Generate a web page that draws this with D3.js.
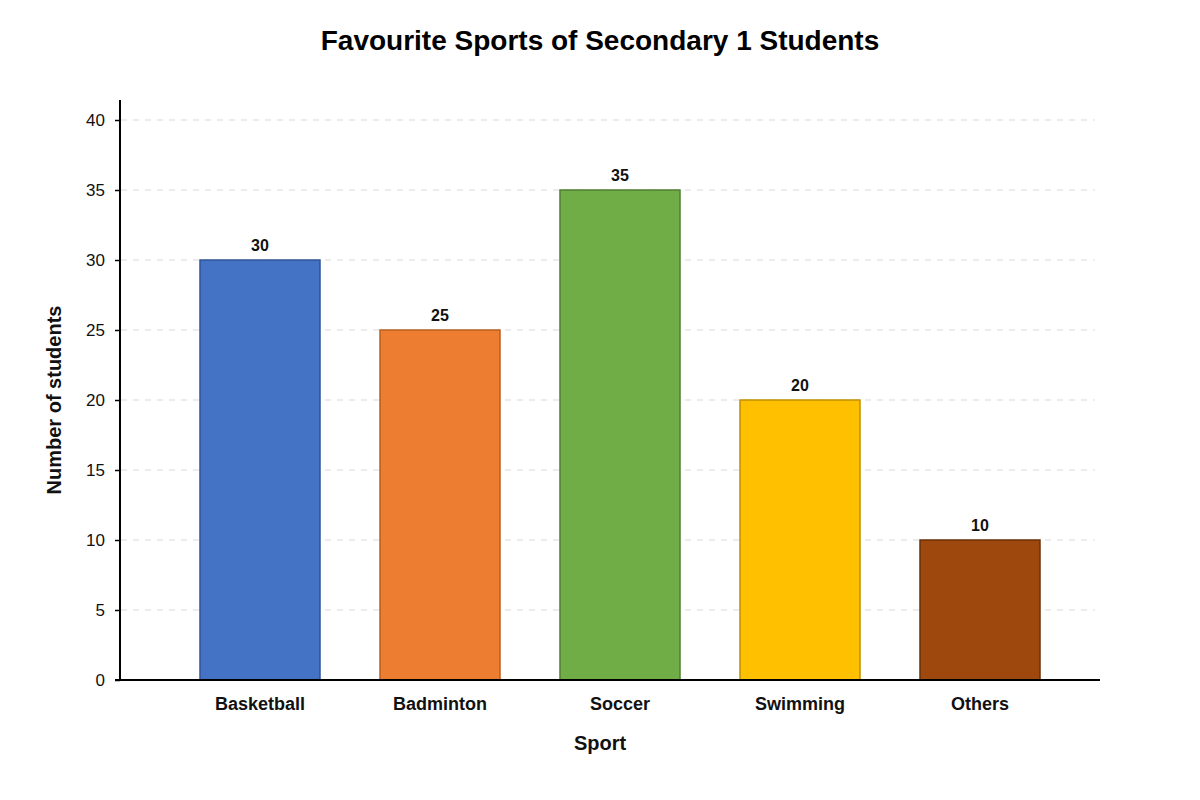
<!DOCTYPE html>
<html><head><meta charset="utf-8">
<script src="https://cdn.jsdelivr.net/npm/d3@7"></script>
<style>body{margin:0;background:#fff;} svg{display:block;font-family:"Liberation Sans",Arial,sans-serif;}</style>
</head><body>
<svg id="c" width="1200" height="800"></svg>
<script>
const categories = ["Basketball","Badminton","Soccer","Swimming","Others"];
const values = [30,25,35,20,10];
const fills = ["#4472C4","#ED7D31","#70AD47","#FFC000","#9E480E"];
const strokes = ["#2F5597","#B85F1F","#507E32","#BF9000","#6B3108"];
const yTicks = [0,5,10,15,20,25,30,35,40];

const svg = d3.select("#c");
const x = d3.scaleBand().domain(categories).range([170,1070]).paddingInner(1/3).paddingOuter(1/6);
const y = d3.scaleLinear().domain([0,40]).range([680,120]);

// gridlines
svg.append("g").selectAll("line").data(yTicks.filter(d=>d>0)).join("line")
  .attr("x1",121).attr("x2",1095).attr("y1",d=>y(d)).attr("y2",d=>y(d))
  .attr("stroke","#d9d9d9").attr("stroke-width",1.2).attr("stroke-dasharray","6,6");

// bars
svg.append("g").selectAll("rect").data(categories).join("rect")
  .attr("x",d=>x(d)).attr("width",x.bandwidth())
  .attr("y",(d,i)=>y(values[i])).attr("height",(d,i)=>y(0)-y(values[i]))
  .attr("fill",(d,i)=>fills[i]).attr("stroke",(d,i)=>strokes[i]).attr("stroke-width",1.5);

// value labels
svg.append("g").selectAll("text").data(categories).join("text")
  .attr("x",d=>x(d)+x.bandwidth()/2).attr("y",(d,i)=>y(values[i])-9)
  .attr("text-anchor","middle").attr("font-size",16).attr("font-weight","bold").attr("fill","#111")
  .text((d,i)=>values[i]);

// y axis
const yAxis = d3.axisLeft(y).tickValues(yTicks).tickSize(5).tickPadding(10);
const gy = svg.append("g").attr("transform","translate(120,0)").call(yAxis);
gy.select(".domain").remove();
gy.selectAll(".tick line").attr("stroke","#000").attr("stroke-width",1.5);
gy.selectAll(".tick text").attr("font-size",17).attr("fill","#111").attr("font-family","Liberation Sans, Arial, sans-serif");
svg.append("line").attr("x1",120).attr("x2",120).attr("y1",100).attr("y2",681).attr("stroke","#000").attr("stroke-width",2);

// x axis
const xAxis = d3.axisBottom(x).tickSize(0).tickPadding(17);
const gx = svg.append("g").attr("transform","translate(0,680)").call(xAxis);
gx.select(".domain").remove();
gx.selectAll(".tick text").attr("font-size",18).attr("font-weight","bold").attr("fill","#111").attr("font-family","Liberation Sans, Arial, sans-serif");
svg.append("line").attr("x1",115).attr("x2",1100).attr("y1",680).attr("y2",680).attr("stroke","#000").attr("stroke-width",2);

// titles
svg.append("text").attr("x",600).attr("y",50).attr("text-anchor","middle")
  .attr("font-size",28).attr("font-weight","bold").attr("fill","#000").text("Favourite Sports of Secondary 1 Students");
svg.append("text").attr("x",600).attr("y",750).attr("text-anchor","middle")
  .attr("font-size",20).attr("font-weight","bold").attr("fill","#111").text("Sport");
svg.append("text").attr("transform","translate(61,400) rotate(-90)").attr("text-anchor","middle")
  .attr("font-size",20).attr("font-weight","bold").attr("fill","#111").text("Number of students");
</script>
</body></html>
